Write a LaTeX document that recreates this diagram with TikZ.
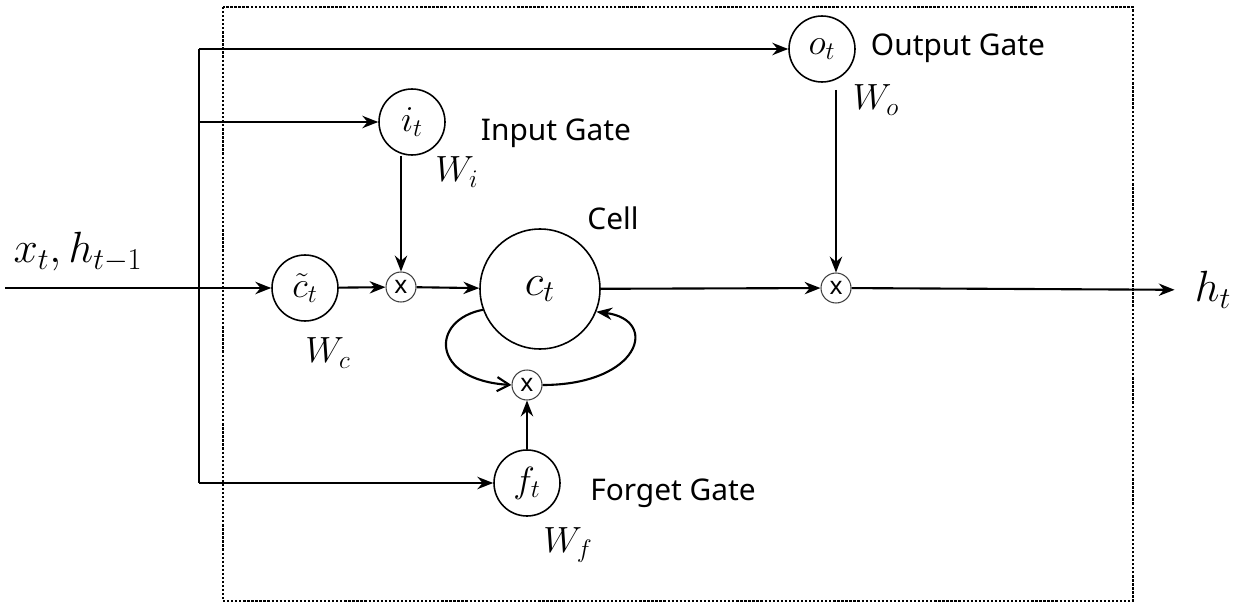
\documentclass[tikz,border=0pt]{standalone}
\usepackage{fontspec}
\setsansfont{Noto Sans}
\usetikzlibrary{arrows.meta}
\tikzset{
  gate/.style={draw,circle,line width=0.9pt,minimum size=1.32cm,inner sep=0pt,font=\fontsize{22}{26}\selectfont},
  mult/.style={draw=black!75,circle,line width=0.6pt,minimum size=0.6cm,inner sep=0pt,font=\sffamily\fontsize{14}{16}\selectfont},
  flow/.style={-{Stealth[length=9pt,width=7pt]},line width=1.2pt},
  gatetxt/.style={font=\sffamily\fontsize{17}{20}\selectfont},
  wtxt/.style={font=\fontsize{21}{25}\selectfont}
}
\begin{document}
\begin{tikzpicture}[x=0.02cm,y=-0.02cm]
\useasboundingbox (0,0) rectangle (1238,608);
% cell boundary
\draw[densely dotted,line width=1.3pt] (223,7) rectangle (1133,601);
% nodes
\node[gate] (ctl) at (305,288) {$\tilde{c}_t$};
\node[mult] (mi) at (401,287) {x};
\node[draw,circle,line width=0.9pt,minimum size=2.4cm,inner sep=0pt,font=\fontsize{27}{30}\selectfont] (cell) at (540,289) {$c_t$};
\node[mult] (mf) at (527,385) {x};
\node[gate] (ft) at (527,483) {$f_t$};
\node[gate] (it) at (412,122) {$i_t$};
\node[gate] (ot) at (822,49) {$o_t$};
\node[mult] (mo) at (836,288) {x};
\node[font=\fontsize{25}{28}\selectfont] (ht) at (1213,290) {$h_t$};
\node[font=\fontsize{23}{26}\selectfont] (xin) at (78,252) {$x_t, h_{t-1}$};
% junctions
\coordinate (in) at (5,288);
\coordinate (jo) at (199,49);
\coordinate (ji) at (199,122);
\coordinate (jf) at (199,483);
% labels
\node[gatetxt] (olab) at (958,48) {Output Gate};
\node[gatetxt] (ilab) at (556,133) {Input Gate};
\node[gatetxt] (clab) at (613,218) {Cell};
\node[gatetxt] (flab) at (673,493) {Forget Gate};
\node[wtxt] (wo) at (876,100) {$W_o$};
\node[wtxt] (wi) at (457,172) {$W_i$};
\node[wtxt] (wc) at (328,353) {$W_c$};
\node[wtxt] (wf) at (568,545) {$W_f$};
% connectors
\draw[flow,line width=1.4pt] (in) -- (ctl);
\draw[line width=1.5pt] (jo) -- (jf);
\draw[flow] (jo) -- (ot);
\draw[flow] (ji) -- (it);
\draw[flow] (jf) -- (ft);
\draw[flow] (ctl) -- (mi);
\draw[flow] (mi) -- (cell);
\draw[flow] (it.south -| mi) -- (mi);
\draw[flow,shorten <=4pt] (ot.south -| mo) -- (mo);
\draw[flow] (ft) -- (mf);
\draw[flow] (cell) -- (mo);
\draw[flow,shorten >=8pt] (mo) -- (ht);
% recurrent loop
\draw[-{Straight Barb[length=7pt,width=8pt]},line width=1.2pt] (cell.200) .. controls (430,320) and (430,380) .. (mf.west);
\draw[flow] (mf.east) .. controls (640,385) and (660,320) .. (cell.-22);
\end{tikzpicture}
\end{document}
